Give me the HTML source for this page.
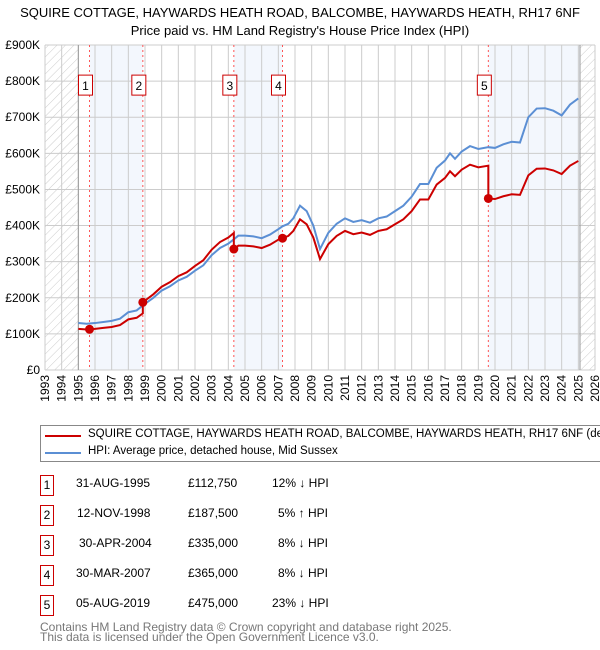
<!DOCTYPE html>
<html><head><meta charset="utf-8"><style>
body{margin:0;width:600px;height:650px;background:#fff;font-family:"Liberation Sans","DejaVu Sans",sans-serif;overflow:hidden;position:relative}
.t{position:absolute;font-size:12px;color:#000;white-space:nowrap}
.box{position:absolute;border:1px solid #c00;width:12px;height:19px;text-align:center;font-size:12px;line-height:19px}
</style></head><body>
<svg width="600" height="420" style="position:absolute;left:0;top:0" id="svg" font-family="Liberation Sans, DejaVu Sans, sans-serif">
<defs><pattern id="hatch" width="6" height="6" patternUnits="userSpaceOnUse" patternTransform="rotate(45)"><line x1="0" y1="0" x2="0" y2="6" stroke="#ccc" stroke-width="1"/></pattern></defs>
<text x="300" y="17" text-anchor="middle" font-size="13">SQUIRE COTTAGE, HAYWARDS HEATH ROAD, BALCOMBE, HAYWARDS HEATH, RH17 6NF</text>
<text x="300" y="35" text-anchor="middle" font-size="13">Price paid vs. HM Land Registry's House Price Index (HPI)</text>
<g id="g"></g>
</svg>
<script>
const hpiYears=[1995,1995.5,1996,1996.5,1997,1997.5,1998,1998.5,1998.9,1999.5,2000,2000.5,2001,2001.5,2002,2002.5,2003,2003.5,2004,2004.33,2004.6,2005,2005.5,2006,2006.5,2007,2007.25,2007.6,2007.9,2008.3,2008.7,2009.1,2009.5,2010,2010.5,2011,2011.5,2012,2012.5,2013,2013.5,2014,2014.5,2015,2015.5,2016,2016.5,2017,2017.3,2017.6,2018,2018.5,2019,2019.6,2020,2020.5,2021,2021.5,2022,2022.5,2023,2023.5,2024,2024.5,2025];
const hpiValues=[130,128,130,133,136,142,160,165,180,200,220,232,248,258,275,290,318,338,350,362,372,372,370,365,375,390,398,405,420,455,440,400,335,380,405,420,410,415,408,420,425,440,455,480,515,515,560,580,600,585,605,620,612,617,615,625,632,630,700,724,725,718,705,735,752];
const saleYears=[1995.67,1998.87,2004.33,2007.25,2019.6];
const salePrices=[112.75,187.5,335,365,475];
const yTicks=[0,100,200,300,400,500,600,700,800,900];
const yTickLabels=["£0","£100K","£200K","£300K","£400K","£500K","£600K","£700K","£800K","£900K"];
const xYears=[];for(let y=1993;y<=2026;y++)xYears.push(y);
const NS="http://www.w3.org/2000/svg";
const X=y=>45+(y-1993)*550/33, Y=v=>370-v*325/900;
const g=document.getElementById('g');
function el(t,a){const e=document.createElementNS(NS,t);for(const k in a)e.setAttribute(k,a[k]);g.appendChild(e);return e;}
function hpiAt(t){for(let i=0;i<hpiYears.length-1;i++){if(t<=hpiYears[i+1]){const f=(t-hpiYears[i])/(hpiYears[i+1]-hpiYears[i]);return hpiValues[i]+f*(hpiValues[i+1]-hpiValues[i]);}}return hpiValues[hpiValues.length-1];}
[[0,1],[2,3]].forEach(p=>{const r=el('rect',{x:X(saleYears[p[0]]),y:Y(900),width:X(saleYears[p[1]])-X(saleYears[p[0]]),height:Y(0)-Y(900),fill:'#eef3fc',opacity:0.7});
});
{const r=el('rect',{x:X(saleYears[4]),y:Y(900),width:X(2025.1)-X(saleYears[4]),height:Y(0)-Y(900),fill:'#eef3fc',opacity:0.7});}
[[1993,1995],[2025.1,2026]].forEach(p=>{const r=el('rect',{x:X(p[0]),y:Y(900),width:X(p[1])-X(p[0]),height:Y(0)-Y(900),fill:'url(#hatch)'});});
yTicks.forEach((v,i)=>{el('line',{x1:X(1993),x2:X(2026),y1:Y(v),y2:Y(v),stroke:'#ccc'});
const t=el('text',{x:40,y:Y(v)+4,'text-anchor':'end','font-size':12});t.textContent=yTickLabels[i];
});
xYears.forEach(y=>{el('line',{x1:X(y),x2:X(y),y1:Y(900),y2:Y(0),stroke:'#ccc'});
const t=el('text',{transform:`translate(${X(y)+4},${375}) rotate(-90)`,'text-anchor':'end','font-size':12});t.textContent=y;
});
el('line',{x1:X(1995),x2:X(1995),y1:Y(900),y2:Y(0),stroke:'#999'});
el('line',{x1:X(2025.1),x2:X(2025.1),y1:Y(900),y2:Y(0),stroke:'#999'});
saleYears.forEach((s,i)=>{el('line',{x1:X(s),x2:X(s),y1:Y(900),y2:Y(0),stroke:'#f55','stroke-dasharray':'2,3'});
const b=el('rect',{x:X(s)-11,y:Y(800)-6,width:14,height:20,fill:'#fff',stroke:'#c00'});

const t=el('text',{x:X(s)-4,y:Y(800)+9,'text-anchor':'middle','font-size':12});t.textContent=i+1;
});
const hp=el('polyline',{points:hpiYears.map((y,i)=>X(y)+','+Y(hpiValues[i])).join(' '),fill:'none',stroke:'#5b8fd4','stroke-width':2});

let pts=[];
for(let k=0;k<saleYears.length;k++){const r=salePrices[k]/hpiAt(saleYears[k]);const s=k==0?1995:saleYears[k];const e=k==saleYears.length-1?2025:saleYears[k+1];
pts.push(X(s)+','+Y(hpiAt(s)*r));hpiYears.forEach(y=>{if(y>s&&y<e)pts.push(X(y)+','+Y(hpiAt(y)*r));});pts.push(X(e)+','+Y(hpiAt(e)*r));}
const rl=el('polyline',{points:pts.join(' '),fill:'none',stroke:'#c00','stroke-width':2});

saleYears.forEach((s,i)=>{const c=el('circle',{cx:X(s),cy:Y(salePrices[i]),r:4.5,fill:'#c00'});
});
</script>
<div style="position:absolute;left:40px;top:425px;width:570px;height:35px;border:1px solid #888;overflow:hidden">
<div style="position:absolute;left:4px;top:9px;width:36px;height:2px;background:#c00"></div>
<div class="t" style="left:47px;top:2px;font-size:11.5px">SQUIRE COTTAGE, HAYWARDS HEATH ROAD, BALCOMBE, HAYWARDS HEATH, RH17 6NF (detached house)</div>
<div style="position:absolute;left:4px;top:26px;width:36px;height:2px;background:#5b8fd4"></div>
<div class="t" style="left:47px;top:19px;font-size:11.5px">HPI: Average price, detached house, Mid Sussex</div>
</div>
<div>
<div class="box" style="left:40px;top:475px">1</div><div class="t" style="left:76px;top:476px">31-AUG-1995</div><div class="t" style="left:188px;top:476px">£112,750</div><div class="t" style="left:272px;top:476px">12% ↓ HPI</div>
<div class="box" style="left:40px;top:505px">2</div><div class="t" style="left:77px;top:506px">12-NOV-1998</div><div class="t" style="left:188px;top:506px">£187,500</div><div class="t" style="left:278px;top:506px">5% ↑ HPI</div>
<div class="box" style="left:40px;top:535px">3</div><div class="t" style="left:79px;top:536px">30-APR-2004</div><div class="t" style="left:188px;top:536px">£335,000</div><div class="t" style="left:278px;top:536px">8% ↓ HPI</div>
<div class="box" style="left:40px;top:565px">4</div><div class="t" style="left:76px;top:566px">30-MAR-2007</div><div class="t" style="left:188px;top:566px">£365,000</div><div class="t" style="left:278px;top:566px">8% ↓ HPI</div>
<div class="box" style="left:40px;top:595px">5</div><div class="t" style="left:76px;top:596px">05-AUG-2019</div><div class="t" style="left:188px;top:596px">£475,000</div><div class="t" style="left:272px;top:596px">23% ↓ HPI</div>
</div>
<div class="t" style="left:40px;top:622px;color:#777;line-height:10px">Contains HM Land Registry data © Crown copyright and database right 2025.<br>This data is licensed under the Open Government Licence v3.0.</div>
</body></html>
